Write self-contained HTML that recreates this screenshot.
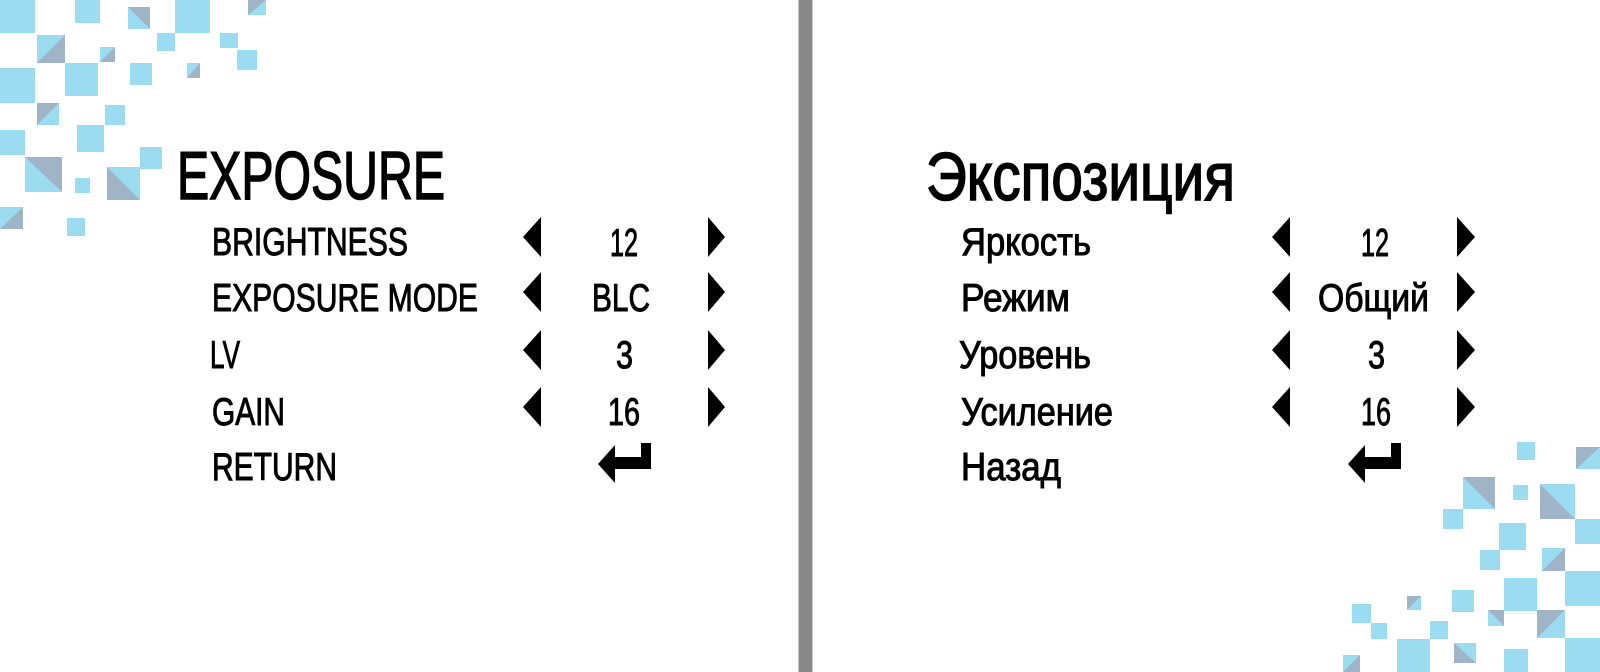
<!DOCTYPE html>
<html><head><meta charset="utf-8"><style>
html,body{margin:0;padding:0;background:#fff;width:1600px;height:672px;overflow:hidden}
svg{display:block}
text{font-family:"Liberation Sans","DejaVu Sans",sans-serif;fill:#000;stroke:#000}
</style></head><body>
<svg width="1600" height="672" viewBox="0 0 1600 672" xmlns="http://www.w3.org/2000/svg">
<g fill="#9bdcf1">
<rect x="0" y="0" width="35" height="33"/><rect x="75" y="0" width="25" height="23"/><rect x="128" y="7" width="22" height="22"/><rect x="175" y="0" width="35" height="33"/><rect x="248" y="0" width="18" height="15"/><rect x="37" y="35" width="28" height="28"/><rect x="100" y="47" width="15" height="15"/><rect x="157" y="33" width="18" height="18"/><rect x="220" y="33" width="18" height="15"/><rect x="237" y="50" width="20" height="20"/><rect x="187" y="63" width="13" height="15"/><rect x="0" y="68" width="35" height="35"/><rect x="65" y="63" width="33" height="33"/><rect x="130" y="63" width="22" height="22"/><rect x="37" y="103" width="22" height="22"/><rect x="105" y="105" width="20" height="20"/><rect x="77" y="125" width="27" height="27"/><rect x="0" y="130" width="25" height="25"/><rect x="25" y="157" width="37" height="35"/><rect x="75" y="178" width="15" height="15"/><rect x="107" y="167" width="33" height="33"/><rect x="140" y="147" width="22" height="22"/><rect x="0" y="207" width="23" height="22"/><rect x="67" y="218" width="18" height="18"/>
<rect x="1517" y="442" width="18" height="18"/><rect x="1576" y="447" width="24" height="22"/><rect x="1463" y="477" width="32" height="32"/><rect x="1513" y="485" width="15" height="15"/><rect x="1540" y="484" width="35" height="35"/><rect x="1443" y="509" width="20" height="20"/><rect x="1575" y="519" width="25" height="25"/><rect x="1499" y="523" width="27" height="27"/><rect x="1480" y="550" width="20" height="20"/><rect x="1542" y="548" width="23" height="23"/><rect x="1504" y="578" width="33" height="33"/><rect x="1565" y="571" width="35" height="35"/><rect x="1452" y="590" width="22" height="22"/><rect x="1407" y="596" width="14" height="14"/><rect x="1352" y="604" width="19" height="19"/><rect x="1371" y="623" width="16" height="16"/><rect x="1430" y="621" width="18" height="18"/><rect x="1488" y="610" width="16" height="16"/><rect x="1537" y="610" width="28" height="28"/><rect x="1397" y="639" width="33" height="33"/><rect x="1454" y="643" width="22" height="20"/><rect x="1504" y="649" width="24" height="23"/><rect x="1565" y="638" width="35" height="34"/><rect x="1343" y="655" width="17" height="17"/>
</g>
<g fill="#a0b4c8">
<polygon points="128,7 150,7 150,29"/><polygon points="248,0 266,0 248,15"/><polygon points="37,63 65,35 65,63"/><polygon points="100,62 115,47 115,62"/><polygon points="187,78 200,63 200,78"/><polygon points="37,103 59,103 37,125"/><polygon points="25,157 62,157 62,192"/><polygon points="107,167 140,200 107,200"/><polygon points="0,229 23,207 23,229"/>
<polygon points="1576,469 1600,447 1576,447"/><polygon points="1463,477 1495,477 1495,509"/><polygon points="1540,484 1575,519 1540,519"/><polygon points="1542,571 1565,548 1565,571"/><polygon points="1407,596 1421,596 1407,610"/><polygon points="1488,610 1504,610 1504,626"/><polygon points="1537,638 1537,610 1565,610"/><polygon points="1454,643 1476,663 1454,663"/><polygon points="1343,672 1360,655 1360,672"/>
</g>
<rect x="799" y="0" width="13" height="672" fill="#888"/>
<rect x="798" y="0" width="1" height="672" fill="#c8c8c8"/><rect x="812" y="0" width="1" height="672" fill="#c8c8c8"/>

<text x="177" y="199" font-size="68" stroke-width="1.6" textLength="268" lengthAdjust="spacingAndGlyphs">EXPOSURE</text>
<g font-size="39" stroke-width="1">
<text x="212" y="255" textLength="196" lengthAdjust="spacingAndGlyphs">BRIGHTNESS</text>
<text x="212" y="311" textLength="266" lengthAdjust="spacingAndGlyphs">EXPOSURE MODE</text>
<text x="210" y="368" textLength="30" lengthAdjust="spacingAndGlyphs">LV</text>
<text x="212" y="425" textLength="73" lengthAdjust="spacingAndGlyphs">GAIN</text>
<text x="212" y="480" textLength="125" lengthAdjust="spacingAndGlyphs">RETURN</text>
<text x="610" y="256" textLength="28" lengthAdjust="spacingAndGlyphs">12</text>
<text x="592" y="311" textLength="58" lengthAdjust="spacingAndGlyphs">BLC</text>
<text x="616" y="368" textLength="17" lengthAdjust="spacingAndGlyphs">3</text>
<text x="608" y="425" textLength="32" lengthAdjust="spacingAndGlyphs">16</text>
</g>
<text x="926" y="200" font-size="68" stroke-width="1.6" textLength="309" lengthAdjust="spacingAndGlyphs">Экспозиция</text>
<g font-size="39" stroke-width="1">
<text x="961" y="255" textLength="130" lengthAdjust="spacingAndGlyphs">Яркость</text>
<text x="961" y="311" textLength="109" lengthAdjust="spacingAndGlyphs">Режим</text>
<text x="959" y="368" textLength="132" lengthAdjust="spacingAndGlyphs">Уровень</text>
<text x="961" y="425" textLength="152" lengthAdjust="spacingAndGlyphs">Усиление</text>
<text x="961" y="480" textLength="100" lengthAdjust="spacingAndGlyphs">Назад</text>
<text x="1361" y="256" textLength="28" lengthAdjust="spacingAndGlyphs">12</text>
<text x="1318" y="311" textLength="111" lengthAdjust="spacingAndGlyphs">Общий</text>
<text x="1368" y="368" textLength="17" lengthAdjust="spacingAndGlyphs">3</text>
<text x="1361" y="425" textLength="30" lengthAdjust="spacingAndGlyphs">16</text>
</g>
<g fill="#000">
<polygon points="523,237 541,217 541,257"/><polygon points="523,292 541,272 541,312"/><polygon points="523,350 541,330 541,370"/><polygon points="523,407 541,387 541,427"/>
<polygon points="725,237 708,217 708,257"/><polygon points="725,292 708,272 708,312"/><polygon points="725,350 708,330 708,370"/><polygon points="725,407 708,387 708,427"/>
<polygon points="1272,237 1290,217 1290,257"/><polygon points="1272,292 1290,272 1290,312"/><polygon points="1272,350 1290,330 1290,370"/><polygon points="1272,407 1290,387 1290,427"/>
<polygon points="1475,237 1457,217 1457,257"/><polygon points="1475,292 1457,272 1457,312"/><polygon points="1475,350 1457,330 1457,370"/><polygon points="1475,407 1457,387 1457,427"/>
<polygon points="598,464 615,445 615,457 641,457 641,443 651,443 651,469 615,469 615,483"/>
<polygon points="1348,464 1365,445 1365,457 1391,457 1391,443 1401,443 1401,469 1365,469 1365,483"/>
</g>
</svg>
</body></html>
